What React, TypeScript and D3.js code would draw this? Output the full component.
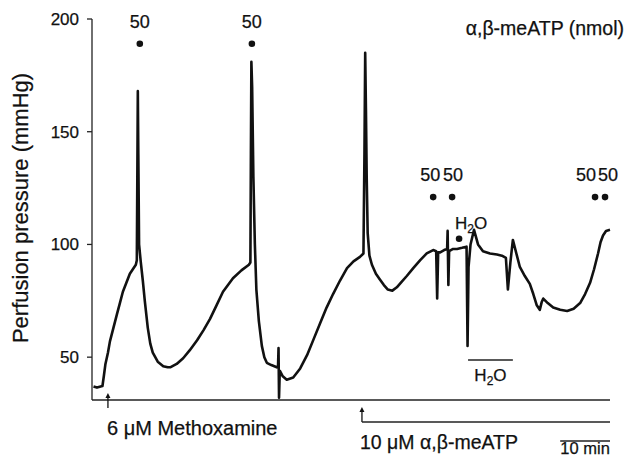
import React from "react";
import * as d3 from "d3";

const width = 627;
const height = 458;
const font = "'Liberation Sans', Arial, Helvetica, sans-serif";

// time (min) / perfusion pressure (mmHg)
const firstCycle: [number, number][] = [
  [0.3, 37], [1, 36.5], [2.1, 37.2], [2.4, 42], [2.7, 47], [3.2, 52], [3.6, 57],
  [4.3, 63], [5.0, 69], [5.6, 74], [6.2, 79], [6.9, 83], [7.6, 87], [8.2, 89],
  [8.8, 91], [9.0, 93], [9.1, 130], [9.2, 168], [9.3, 140], [9.45, 100], [9.8, 92],
  [10.2, 84], [10.6, 75], [11.2, 63], [11.7, 56], [12.2, 52], [13.2, 48], [14.3, 46],
  [15.2, 45.5], [15.7, 45.5], [17, 47], [18.3, 49.5], [19.6, 53], [21.1, 57.5],
  [22.4, 62], [23.7, 67], [25, 73], [26.3, 79], [27.3, 82], [28.3, 85], [30, 88.5],
  [31.5, 91],
];
const secondCycle: [number, number][] = [
  [31.8, 92], [31.9, 140], [32.0, 181], [32.15, 170], [32.4, 130], [32.7, 100],
  [33.0, 80], [33.5, 66], [34.1, 55], [34.6, 50], [35.1, 47.5], [36, 46.5],
  [37.1, 45.5], [37.35, 46], [37.45, 54], [37.55, 32], [37.7, 44], [38.3, 41.5],
  [39.1, 40], [40.4, 41], [41.8, 45], [43.2, 51], [44.5, 58], [45.8, 65], [47.1, 72],
  [48.4, 78], [49.8, 84], [51.2, 89.5], [52.5, 92.5], [53.8, 94.5],
];
const thirdCycle: [number, number][] = [
  [54.5, 96], [54.7, 140], [54.85, 185], [55.0, 160], [55.15, 130], [55.35, 105],
  [55.7, 95], [56.2, 91], [57, 87], [57.8, 84.5], [58.6, 82], [59.4, 80], [60.3, 79.5],
  [61.2, 81], [62.2, 83.5], [63.2, 86], [64.5, 89.5], [65.9, 93], [67.2, 96],
  [68.5, 97.5], [69.1, 97], [69.3, 76], [69.5, 96.5], [69.9, 96.5], [70.7, 97.5],
  [71.3, 98], [71.4, 106], [71.55, 82], [71.7, 97], [72.5, 98], [73.3, 98],
  [74.3, 98.5], [75.2, 99], [75.4, 55], [75.6, 90], [76.0, 100], [76.7, 106.5],
  [77.5, 100], [78.5, 97], [79.9, 96], [81.3, 95.5], [82.3, 95], [83.1, 94],
  [83.5, 80], [84.0, 92], [84.5, 102], [85.2, 96], [85.9, 90], [86.9, 86],
  [87.9, 82.5], [88.6, 78], [89.3, 73], [89.9, 71], [90.3, 74.5], [90.6, 76],
  [91.5, 74], [92.6, 72], [94, 71], [95.4, 70.5], [96.7, 71.5], [98, 74], [99, 78],
  [100, 83], [100.8, 89], [101.6, 96], [102.1, 101], [102.6, 104], [103.2, 106],
  [104, 106.5],
];

const yTicks = [50, 100, 150, 200];

// bolus injections: time, label, marker level (mmHg)
const doseTimes = [9.6, 32.1, 68.5, 72.3, 101.0, 103.0];
const doseLabels = ["50", "50", "50", "50", "50", "50"];
const doseLevels = [189, 189, 121, 121, 121, 121];
const labelNudge = [0, 0, -3, 1, -9, 3];

const waterTime = 73.7;
const waterLevel = 102.5;
const waterPeriod = [75.5, 84.5];
const methoxamineTime = 3.2;
const meATPTime = 54.2;
const scaleBar = [94, 104];

const App = () => {
  const x = d3.scaleLinear().domain([0, 104]).range([92, 610]);
  const y = d3.scaleLinear().domain([31, 200]).range([400, 19]);
  const trace = [...firstCycle, ...secondCycle, ...thirdCycle];
  const line = d3
    .line<[number, number]>()
    .x(d => x(d[0]))
    .y(d => y(d[1]));

  const ink = "#111";
  const textProps = { fill: ink, stroke: ink, strokeWidth: 0.25 };

  const arrow = (cx: number, y1: number, y2: number) => (
    <g stroke={ink} strokeWidth={1.3} fill={ink}>
      <line x1={cx} x2={cx} y1={y1} y2={y2 + 3} />
      <path d={`M${cx - 2.5},${y2 + 5} L${cx},${y2} L${cx + 2.5},${y2 + 5} Z`} stroke="none" />
    </g>
  );

  const water = (cx: number, by: number) => (
    <text x={cx} y={by} textAnchor="middle" fontSize={17} {...textProps}>
      H<tspan fontSize={12} dy={4}>2</tspan>
      <tspan dy={-4}>O</tspan>
    </text>
  );

  return (
    <svg
      width={width}
      height={height}
      style={{ position: "absolute", left: 0, top: 0, background: "#fff" }}
      fontFamily={font}
    >
      {/* y axis */}
      <line x1={92} x2={92} y1={y(200)} y2={y(31)} stroke="#222" strokeWidth={1.3} />
      {yTicks.map(t => (
        <g key={t}>
          <line x1={87} x2={92} y1={y(t)} y2={y(t)} stroke="#222" strokeWidth={1.3} />
          <text x={79} y={y(t)} dy="0.35em" textAnchor="end" fontSize={17} {...textProps}>
            {t}
          </text>
        </g>
      ))}
      <text
        transform={`translate(28,208) rotate(-90)`}
        textAnchor="middle"
        fontSize={22}
        {...textProps}
      >
        Perfusion pressure (mmHg)
      </text>
      {/* time baseline */}
      <line x1={92} x2={x(104)} y1={y(31)} y2={y(31)} stroke="#222" strokeWidth={1.3} />

      {/* trace */}
      <path
        d={line(trace) || ""}
        fill="none"
        stroke={ink}
        strokeWidth={2.6}
        strokeLinejoin="round"
      />

      {/* doses */}
      <text x={624} y={35} textAnchor="end" fontSize={19.5} {...textProps}>
        α,β-meATP (nmol)
      </text>
      {doseTimes.map((t, i) => (
        <g key={i}>
          <circle cx={x(t)} cy={y(doseLevels[i])} r={3.3} fill={ink} />
          <text
            x={x(t) + labelNudge[i]}
            y={y(doseLevels[i]) - 16}
            textAnchor="middle"
            fontSize={18}
            {...textProps}
          >
            {doseLabels[i]}
          </text>
        </g>
      ))}
      <circle cx={x(waterTime)} cy={y(waterLevel)} r={3.3} fill={ink} />
      {water(x(waterTime) + 12, y(waterLevel) - 10)}
      <line x1={x(waterPeriod[0])} x2={x(waterPeriod[1])} y1={360} y2={360} stroke="#222" strokeWidth={1.3} />
      {water((x(waterPeriod[0]) + x(waterPeriod[1])) / 2, 381)}

      {/* drug application */}
      {arrow(x(methoxamineTime), 408, 393)}
      <text x={107} y={435} fontSize={20} {...textProps}>
        6 μM Methoxamine
      </text>
      {arrow(x(meATPTime), 422, 407)}
      <line x1={x(meATPTime)} x2={x(104)} y1={422} y2={422} stroke="#222" strokeWidth={1.3} />
      <text x={360} y={449} fontSize={19.5} {...textProps}>
        10 μM α,β-meATP
      </text>

      {/* scale bar */}
      <line x1={x(scaleBar[0])} x2={x(scaleBar[1])} y1={441} y2={441} stroke="#222" strokeWidth={1.5} />
      <text x={(x(scaleBar[0]) + x(scaleBar[1])) / 2} y={454} textAnchor="middle" fontSize={16.5} {...textProps}>
        10 min
      </text>
    </svg>
  );
};

export default App;
